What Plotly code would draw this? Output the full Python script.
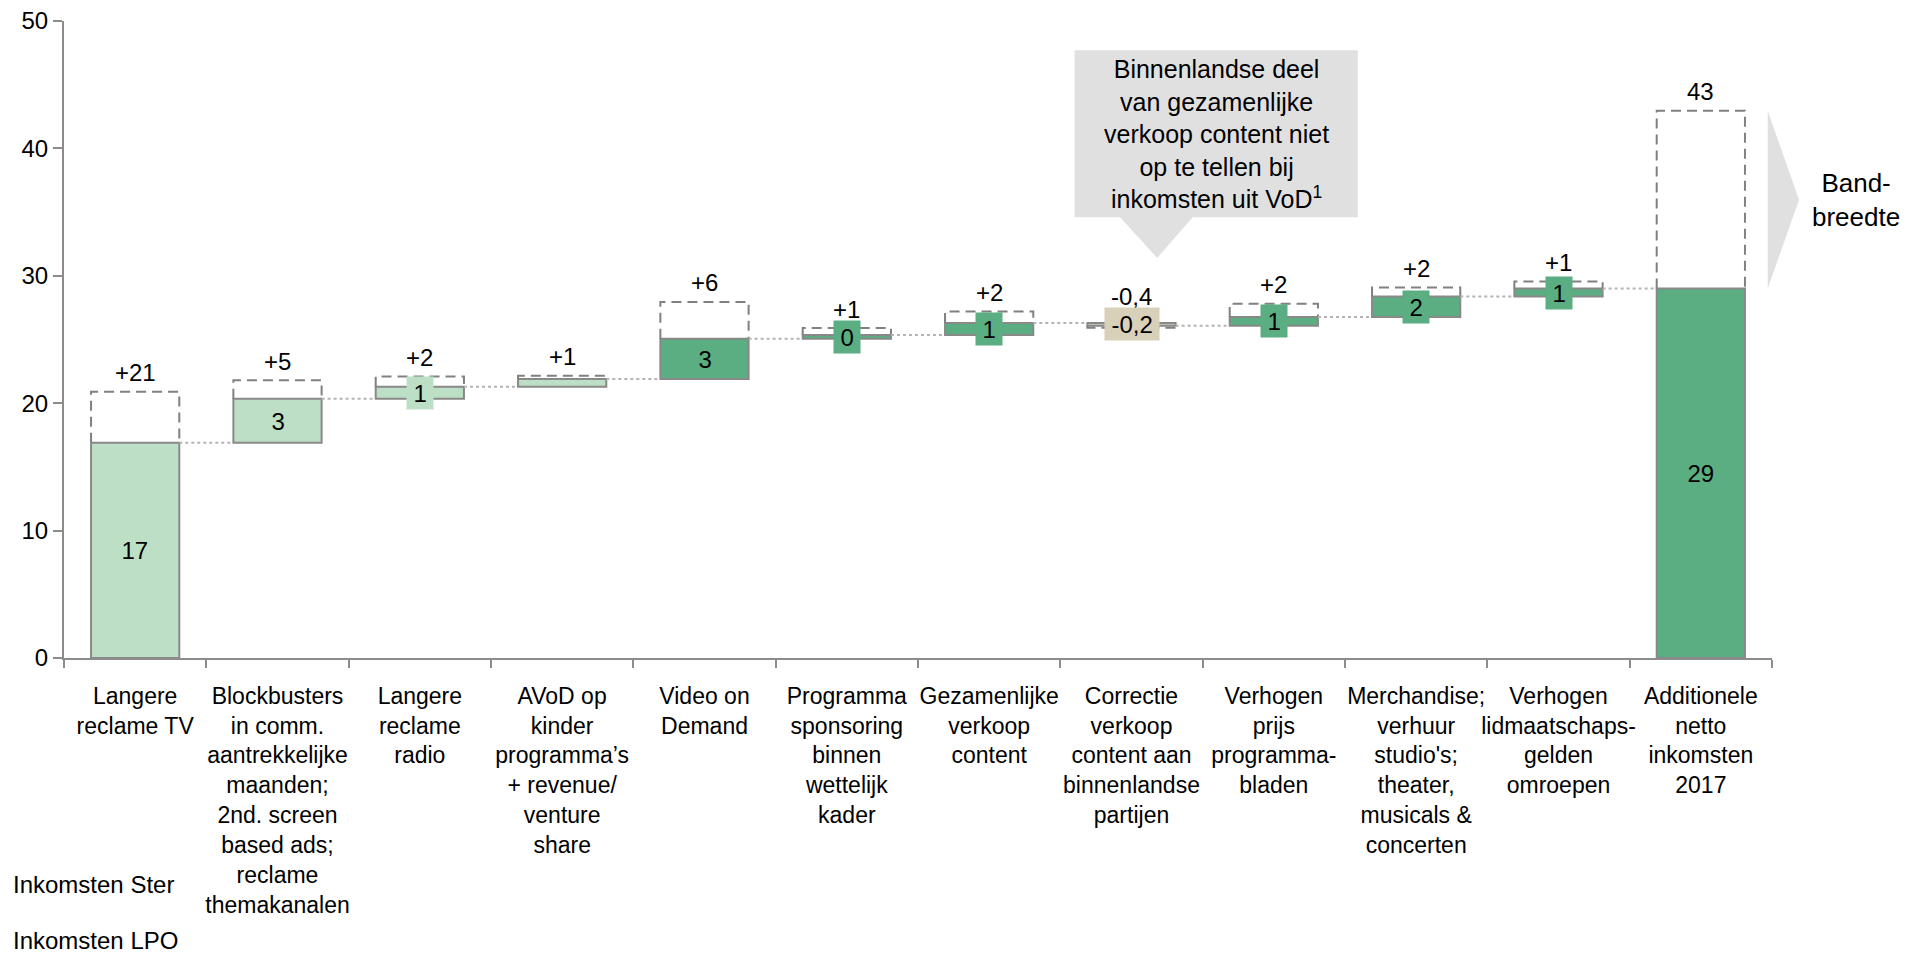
import plotly.graph_objects as go

# ---------------- data ----------------
categories = [
    "Langere<br>reclame TV",
    "Blockbusters<br>in comm.<br>aantrekkelijke<br>maanden;<br>2nd. screen<br>based ads;<br>reclame<br>themakanalen",
    "Langere<br>reclame<br>radio",
    "AVoD op<br>kinder<br>programma’s<br>+ revenue/<br>venture<br>share",
    "Video on<br>Demand",
    "Programma<br>sponsoring<br>binnen<br>wettelijk<br>kader",
    "Gezamenlijke<br>verkoop<br>content",
    "Correctie<br>verkoop<br>content aan<br>binnenlandse<br>partijen",
    "Verhogen<br>prijs<br>programma-<br>bladen",
    "Merchandise;<br>verhuur<br>studio's;<br>theater,<br>musicals &<br>concerten",
    "Verhogen<br>lidmaatschaps-<br>gelden<br>omroepen",
    "Additionele<br>netto<br>inkomsten<br>2017",
]
# net contribution of each step (solid part)
step_values = [16.9, 3.45, 0.95, 0.6, 3.15, 0.3, 0.95, -0.23, 0.7, 1.6, 0.63]
# extra potential on top of each solid part (dashed part), last = total bar
range_extra = [4.0, 1.45, 0.8, 0.25, 2.9, 0.55, 0.9, -0.15, 1.03, 0.71, 0.55, 13.95]
range_labels = ["+21", "+5", "+2", "+1", "+6", "+1", "+2", "-0,4", "+2", "+2", "+1", "43"]
value_labels = ["17", "3", "1", "", "3", "0", "1", "-0,2", "1", "2", "1", "29"]
bar_groups = ["ster", "ster", "ster", "ster", "lpo", "lpo", "lpo", "correctie",
              "lpo", "lpo", "lpo", "totaal"]
y_ticks = [0, 10, 20, 30, 40, 50]
callout_text = ("Binnenlandse deel<br>van gezamenlijke<br>verkoop content niet"
                "<br>op te tellen bij<br>inkomsten uit VoD<sup>1</sup>")
side_text = "Band-<br>breedte"
row_labels = ["Inkomsten Ster", "Inkomsten LPO"]

# ---------------- styles ----------------
FONT = "Liberation Sans, Arial, sans-serif"
COLORS = {"ster": "rgb(188,223,197)", "lpo": "rgb(90,174,130)",
          "correctie": "rgb(217,208,186)", "totaal": "rgb(90,174,130)"}
AXIS = "rgb(140,140,140)"
OUTLINE = "rgb(137,137,137)"
DASH = "rgb(128,128,128)"
DOT = "rgb(180,180,180)"
BAR_W = 0.62
CHARW = {"-": 0.333, ",": 0.278, "+": 0.584}

# ---------------- derived geometry ----------------
positions = list(range(len(categories)))
bases, heights = [], []
running = 0.0
for v in step_values:
    bases.append(running)
    heights.append(v)
    running += v
total = running
bases.append(0.0)
heights.append(total)
colors = [COLORS[g] for g in bar_groups]

fig = go.Figure()
fig.add_trace(go.Bar(
    x=positions, y=heights, base=bases, width=BAR_W,
    marker=dict(color=colors, line=dict(color=OUTLINE, width=2)),
    hoverinfo="skip", showlegend=False,
))

# dashed potential boxes
dx, dy = [], []
for i, (b, h, e) in enumerate(zip(bases, heights, range_extra)):
    y0 = b + h
    y1 = y0 + e
    x0, x1 = i - BAR_W / 2, i + BAR_W / 2
    dx += [x0, x0, x1, x1, None]
    dy += [y0, y1, y1, y0, None]
fig.add_trace(go.Scatter(x=dx, y=dy, mode="lines",
                         line=dict(color=DASH, width=2, dash="10px,6px"),
                         hoverinfo="skip", showlegend=False))

# dotted connectors
cx, cy = [], []
for i in range(len(categories) - 1):
    lvl = bases[i] + heights[i]
    cx += [i + BAR_W / 2, i + 1 - BAR_W / 2, None]
    cy += [lvl, lvl, None]
fig.add_trace(go.Scatter(x=cx, y=cy, mode="lines",
                         line=dict(color=DOT, width=2, dash="dot"),
                         hoverinfo="skip", showlegend=False))


def text_width(s, size=24):
    return sum(CHARW.get(c, 0.556) for c in s) * size


annotations = []
for i, (b, h, e) in enumerate(zip(bases, heights, range_extra)):
    top = max(b, b + h, b + h + e)
    annotations.append(dict(x=i, y=top, text=range_labels[i], showarrow=False,
                            xref="x", yref="y", yanchor="middle",
                            yshift=26 if h < 0 else 19,
                            font=dict(size=24, color="black", family=FONT)))
    if value_labels[i]:
        annotations.append(dict(x=i, y=b + h / 2, text=value_labels[i], showarrow=False,
                                xref="x", yref="y", yanchor="middle",
                                bgcolor=colors[i], borderpad=0,
                                width=text_width(value_labels[i]) + 13, height=32,
                                font=dict(size=24, color="black", family=FONT)))

# callout (speech bubble) near the correction step
ci = bar_groups.index("correctie")
bx0, bx1 = ci - 0.4, ci + 1.59
by0, by1 = 34.6, 47.7
tip_x, tip_y = ci + 0.18, 31.4
path = (f"M {bx0},{by1} L {bx1},{by1} L {bx1},{by0} L {ci + 0.43},{by0} "
        f"L {tip_x},{tip_y} L {ci - 0.08},{by0} L {bx0},{by0} Z")
shapes = [dict(type="path", path=path, xref="x", yref="y",
               fillcolor="rgb(224,224,224)", line=dict(width=0), layer="above")]
annotations.append(dict(x=(bx0 + bx1) / 2, y=(by0 + by1) / 2, text=callout_text,
                        showarrow=False, xref="x", yref="y",
                        font=dict(size=25, color="black", family=FONT)))

# grey arrow right of the total bar (range of total)
n = len(categories)
last = n - 1
ax0 = (last + 0.47 + 0.5) / n
ax1 = (last + 0.69 + 0.5) / n
a_lo = total
a_hi = total + range_extra[-1]
shapes.append(dict(type="path", xref="paper", yref="y",
                   path=f"M {ax0},{a_hi} L {ax1},{(a_lo + a_hi) / 2} L {ax0},{a_lo} Z",
                   fillcolor="rgb(224,224,224)", line=dict(width=0)))
annotations.append(dict(x=1.0755, y=(a_lo + a_hi) / 2, xref="paper", yref="y",
                        text=side_text, showarrow=False, xanchor="right",
                        align="center", borderpad=0,
                        font=dict(size=26, color="black", family=FONT)))

for lbl, yp in zip(row_labels, [-0.356, -0.444]):
    annotations.append(dict(x=-0.031, y=yp, xref="paper", yref="paper", text=lbl,
                            showarrow=False, xanchor="left", yanchor="middle",
                            font=dict(size=24, color="black", family=FONT)))

boundaries = [p - 0.5 for p in positions] + [positions[-1] + 0.5]

fig.update_layout(
    width=1900, height=950,
    margin=dict(l=56, r=136, t=13, b=300, autoexpand=False),
    plot_bgcolor="white", paper_bgcolor="white",
    font=dict(family=FONT, size=24, color="black"),
    showlegend=False,
    shapes=shapes, annotations=annotations,
    xaxis=dict(range=[-0.5, n - 0.5], tickmode="array", tickvals=positions,
               ticktext=categories, ticks="", tickangle=0, automargin=False,
               ticklabelstandoff=16, ticklabeloverflow="allow",
               showgrid=False, zeroline=False,
               showline=True, linecolor=AXIS, linewidth=2,
               tickfont=dict(size=23, family=FONT, color="black"),
               minor=dict(tickmode="array", tickvals=boundaries, ticks="outside",
                          ticklen=8, tickwidth=2, tickcolor=AXIS, showgrid=False)),
    yaxis=dict(range=[0, 50], tickmode="array", tickvals=y_ticks, ticks="outside",
               ticklen=9, tickwidth=2, tickcolor=AXIS, showgrid=False, zeroline=False,
               automargin=False, ticklabeloverflow="allow",
               showline=True, linecolor=AXIS, linewidth=2,
               tickfont=dict(size=24, family=FONT, color="black")),
)

fig.write_html("out.html")
